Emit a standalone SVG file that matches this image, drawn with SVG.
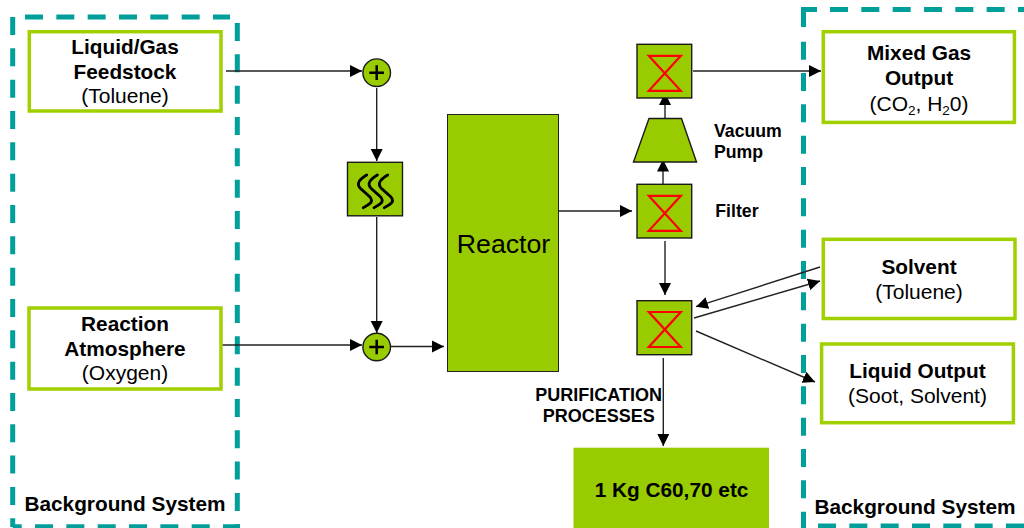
<svg xmlns="http://www.w3.org/2000/svg" width="1024" height="528" viewBox="0 0 1024 528">
<defs>
<style>
text{font-family:"Liberation Sans",Arial,sans-serif;fill:#000;text-anchor:middle}
.b{font-weight:bold;font-size:20.8px}
.t{font-size:21px}
.s{font-size:17.700px;font-weight:bold}
.p{font-size:18px;font-weight:bold}
.l{text-anchor:start}
.bg{fill:none;stroke:#009f9a;stroke-width:5;stroke-dasharray:18 13.330}
.solid{stroke-dasharray:none}
.box{fill:#fff;stroke:#a0d000;stroke-width:3.500}
.g{fill:#99cc00;stroke:#1a1a1a;stroke-width:1.400}
.x{fill:none;stroke:#f00;stroke-width:2.200}
.c{fill:none;stroke:#222;stroke-width:1.400}
.w{fill:none;stroke:#000;stroke-width:2.800;stroke-linecap:round}
.h{fill:#000}
</style>
<path id="valve" class="x" d="M-16,-17.500H16L-16,17.500H16Z"/>
<path id="wave" class="w" d="M366.700,175C360,179 356,183 360,188L370,197C374,202 370,204 363.300,207.700"/>
<marker id="a" markerUnits="userSpaceOnUse" markerWidth="13" markerHeight="13" viewBox="0 0 13 13" refX="12" refY="6.500" orient="auto"><path class="h" d="M0,0.500L12,6.500L0,12.500Z"/></marker>
</defs>
<g id="bg-left">
<path class="bg" d="M25,17H230"/><path class="bg" d="M12.700,17V527"/><path class="bg" d="M237.300,23V526.700"/><path class="bg" stroke-dashoffset="9" d="M12.700,526.700H240"/>
<text class="b" x="125" y="510.500">Background System</text></g>
<g id="bg-right">
<path class="bg solid" d="M817,9.500H803.500V27"/><path class="bg" d="M830,9.500H1024"/><path class="bg" d="M803.500,41.700V528"/><path class="bg" d="M818,526H1024"/>
<text class="b" x="915" y="513.500">Background System</text></g>
<g id="connectors">
<path class="c" marker-end="url(#a)" d="M226,71H362"/>
<path class="c" marker-end="url(#a)" d="M376.700,88V161"/>
<path class="c" marker-end="url(#a)" d="M376.700,217V333"/>
<path class="c" marker-end="url(#a)" d="M220,345H362"/>
<path class="c" marker-end="url(#a)" d="M391,346.500H444"/>
<path class="c" marker-end="url(#a)" d="M558,211H632"/>
<path class="c" marker-end="url(#a)" d="M663,184V159.500"/>
<path class="c" marker-end="url(#a)" d="M665,118V93"/>
<path class="c" marker-end="url(#a)" d="M693,71H821"/>
<path class="c" marker-end="url(#a)" d="M665,241V295"/>
<path class="c" marker-end="url(#a)" d="M820,267L696,306.700"/>
<path class="c" marker-end="url(#a)" d="M694,318L820,281"/>
<path class="c" marker-end="url(#a)" d="M696,331L815,382"/>
<path class="c" marker-end="url(#a)" d="M663.300,358V446"/>
</g>
<g id="feedstock"><rect class="box" x="29.300" y="31.700" width="191.700" height="79.300"/><text class="b" x="125" y="54">Liquid/Gas</text><text class="b" x="125" y="79">Feedstock</text><text class="t" x="125" y="103">(Toluene)</text></g>
<g id="atmosphere"><rect class="box" x="29" y="308" width="192" height="81"/><text class="b" x="125" y="331">Reaction</text><text class="b" x="125" y="356">Atmosphere</text><text class="t" x="125" y="380">(Oxygen)</text></g>
<g id="mix-top"><circle class="g" cx="376.700" cy="72.700" r="13.800"/><path fill="none" stroke="#000" stroke-width="2.500" d="M369.300,72.700H384M376.700,65.300V80"/></g>
<g id="mix-bottom"><circle class="g" cx="376.700" cy="347" r="13.800"/><path fill="none" stroke="#000" stroke-width="2.500" d="M369.300,347H384M376.700,339.700V354.300"/></g>
<g id="heater"><rect class="g" x="347.500" y="162.300" width="55" height="53.500"/><use href="#wave"/><use href="#wave" x="10.700"/><use href="#wave" x="21"/></g>
<g id="reactor"><rect x="447.500" y="114.500" width="111" height="257" fill="#99cc00" stroke="#222" stroke-width="1"/><text x="503.500" y="253" font-size="26.700">Reactor</text></g>
<g id="valve-top"><rect class="g" x="637" y="44.300" width="54.700" height="53.700"/><use href="#valve" x="664.800" y="73.300"/></g>
<g id="pump"><path class="g" d="M649,118.500H681.500L696.500,162H633.500Z"/></g>
<g id="valve-filter"><rect class="g" x="637" y="184.300" width="54.700" height="53.700"/><use href="#valve" x="664.800" y="213.300"/></g>
<g id="valve-bottom"><rect class="g" x="637" y="300.700" width="54.700" height="54"/><use href="#valve" x="664.800" y="329.500"/></g>
<text class="s l" x="714" y="136.700">Vacuum</text><text class="s l" x="714" y="158">Pump</text>
<text class="s l" x="715.300" y="216.700">Filter</text>
<text class="p" x="598.700" y="400.700">PURIFICATION</text><text class="p" x="598.700" y="421.700">PROCESSES</text>
<g id="product"><rect x="573.500" y="447.700" width="195.500" height="80.300" fill="#99cc00"/><text class="b" x="671.500" y="497">1 Kg C60,70 etc</text></g>
<g id="mixed-gas"><rect class="box" x="823.300" y="31.700" width="191.100" height="90.700"/><text class="b" x="919" y="60">Mixed Gas</text><text class="b" x="919" y="85">Output</text><text class="t" x="919" y="110.500">(CO<tspan font-size="13.500" dy="4">2</tspan><tspan dy="-4">, H</tspan><tspan font-size="13.500" dy="4">2</tspan><tspan dy="-4">0)</tspan></text></g>
<g id="solvent"><rect class="box" x="823.300" y="239.300" width="191.700" height="79.200"/><text class="b" x="919" y="273.500">Solvent</text><text class="t" x="919" y="299">(Toluene)</text></g>
<g id="liquid-output"><rect class="box" x="821.600" y="344" width="191.800" height="78.700"/><text class="b" x="917.500" y="377.700">Liquid Output</text><text class="t" x="917.500" y="402.700">(Soot, Solvent)</text></g>
</svg>
